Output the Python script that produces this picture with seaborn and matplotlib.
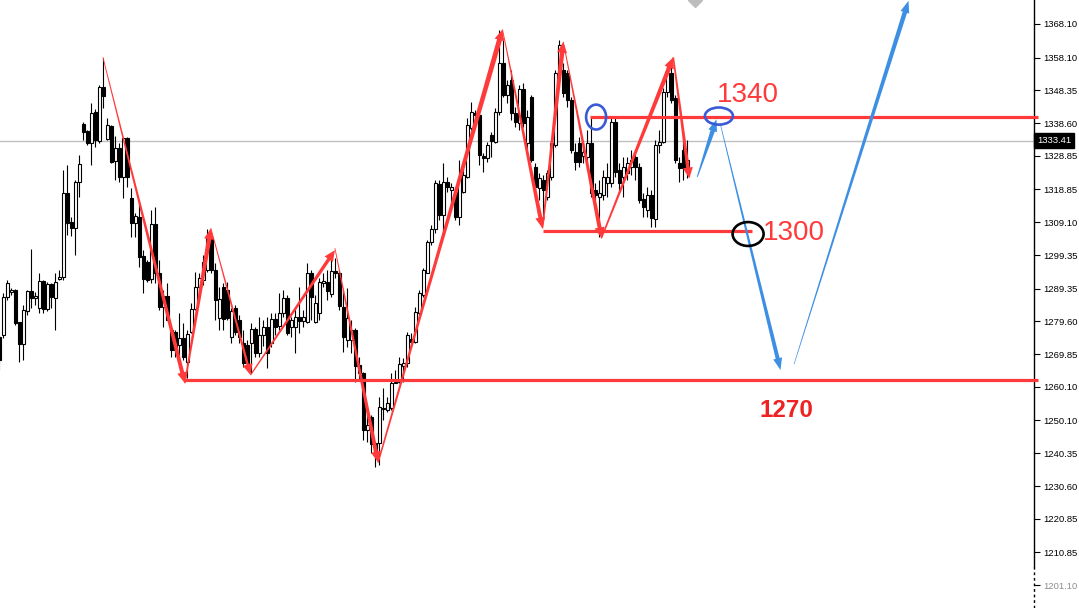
import numpy as np
import pandas as pd
import matplotlib.pyplot as plt
import seaborn as sns
from matplotlib.patches import Polygon, Ellipse
from matplotlib.transforms import IdentityTransform, blended_transform_factory

# candle prices, one entry per bar
opens = [1274.9, 1275.5, 1286.8, 1288.3, 1288.9, 1279.4, 1272.8, 1282.6, 1288.6, 1286.5,
         1283.5, 1291.6, 1283.2, 1290.7, 1286.5, 1292.2, 1292.8, 1317.8, 1309.1, 1307.3,
         1321.0, 1338.3, 1336.2, 1332.6, 1341.9, 1333.2, 1349.3, 1333.8, 1337.7, 1327.3,
         1331.2, 1322.5, 1334.1, 1316.3, 1308.8, 1310.6, 1299.0, 1297.2, 1292.2, 1308.5,
         1294.0, 1283.8, 1287.1, 1277.0, 1276.4, 1272.5, 1274.6, 1267.5, 1276.4, 1283.2,
         1289.8, 1291.9, 1294.8, 1304.4, 1294.8, 1280.6, 1289.8, 1288.9, 1274.9, 1283.5,
         1280.0, 1273.1, 1272.5, 1273.1, 1277.3, 1270.1, 1275.5, 1277.9, 1273.1, 1280.3,
         1278.2, 1282.0, 1286.5, 1277.9, 1277.9, 1280.9, 1279.7, 1279.4, 1294.0, 1279.4,
         1282.0, 1291.0, 1291.3, 1287.7, 1294.6, 1294.0, 1283.8, 1274.0, 1274.0, 1277.0,
         1266.6, 1264.2, 1247.2, 1251.1, 1243.4, 1243.4, 1253.5, 1253.2, 1253.8, 1261.2,
         1261.5, 1266.3, 1267.2, 1274.3, 1273.4, 1282.0, 1287.4, 1294.0, 1303.2, 1307.0,
         1320.4, 1311.2, 1321.0, 1318.7, 1318.1, 1310.6, 1318.1, 1322.5, 1337.1, 1341.6,
         1341.0, 1328.8, 1328.2, 1335.0, 1332.9, 1341.9, 1356.5, 1346.9, 1351.4, 1341.6,
         1338.6, 1348.7, 1332.6, 1346.3, 1325.5, 1319.2, 1321.6, 1316.6, 1322.5, 1332.0,
         1353.8, 1354.4, 1353.5, 1345.4, 1330.0, 1332.6, 1328.8, 1328.5, 1332.6, 1318.7,
         1316.6, 1317.2, 1320.7, 1320.7, 1338.9, 1324.6, 1322.5, 1323.7, 1325.5, 1328.5,
         1325.5, 1316.0, 1312.7, 1317.2, 1310.0, 1332.0, 1332.9, 1347.8, 1353.5, 1346.0,
         1326.7, 1330.6, 1325.2]
highs = [1275.5, 1288.0, 1291.9, 1289.5, 1289.2, 1279.4, 1284.4, 1288.9, 1301.1, 1288.3,
         1294.0, 1291.9, 1291.3, 1291.0, 1294.0, 1294.8, 1324.6, 1326.1, 1310.6, 1321.6,
         1329.1, 1338.9, 1336.5, 1344.5, 1342.8, 1349.9, 1357.9, 1340.1, 1338.0, 1334.7,
         1332.6, 1334.4, 1334.4, 1319.2, 1311.8, 1315.7, 1300.8, 1297.8, 1312.7, 1313.6,
         1297.8, 1288.9, 1291.0, 1277.9, 1277.0, 1282.0, 1279.1, 1277.0, 1285.0, 1294.3,
         1294.0, 1299.3, 1307.0, 1305.9, 1296.9, 1289.8, 1291.0, 1291.3, 1283.5, 1284.4,
         1281.5, 1277.0, 1274.0, 1279.1, 1277.9, 1280.9, 1280.0, 1280.9, 1282.0, 1282.0,
         1288.0, 1288.9, 1287.4, 1280.9, 1283.5, 1289.8, 1282.9, 1296.9, 1294.8, 1287.4,
         1292.5, 1294.0, 1294.8, 1298.7, 1298.4, 1294.8, 1288.9, 1289.5, 1280.0, 1277.6,
         1268.9, 1264.5, 1251.7, 1251.7, 1243.7, 1257.1, 1259.7, 1257.1, 1264.2, 1265.1,
         1268.9, 1268.7, 1276.4, 1276.1, 1283.8, 1288.9, 1295.4, 1303.8, 1308.2, 1321.6,
         1321.6, 1326.7, 1322.5, 1320.7, 1319.5, 1327.6, 1327.0, 1340.1, 1344.8, 1342.5,
         1341.6, 1329.7, 1332.9, 1335.9, 1343.1, 1366.3, 1363.3, 1351.4, 1354.4, 1343.4,
         1349.9, 1350.5, 1342.5, 1346.9, 1326.7, 1323.7, 1323.1, 1324.6, 1333.5, 1354.4,
         1363.3, 1356.5, 1354.4, 1346.3, 1332.6, 1334.4, 1332.6, 1336.5, 1340.4, 1320.7,
         1321.6, 1324.6, 1326.7, 1340.1, 1340.1, 1326.7, 1328.5, 1328.5, 1330.6, 1330.6,
         1326.7, 1317.8, 1319.5, 1318.7, 1333.5, 1336.5, 1349.0, 1356.5, 1357.3, 1346.9,
         1328.5, 1334.4, 1333.5]
lows = [1265.1, 1274.6, 1285.9, 1287.4, 1278.5, 1267.5, 1268.1, 1281.5, 1283.5, 1284.4,
        1282.0, 1282.0, 1282.6, 1283.5, 1277.0, 1291.9, 1291.9, 1305.3, 1305.0, 1299.3,
        1316.6, 1333.5, 1332.0, 1326.1, 1331.5, 1332.6, 1343.1, 1333.5, 1326.7, 1321.6,
        1321.0, 1316.3, 1319.5, 1304.7, 1304.7, 1295.7, 1288.0, 1291.3, 1291.0, 1291.0,
        1282.9, 1277.9, 1280.0, 1268.9, 1268.9, 1268.1, 1268.1, 1262.7, 1276.1, 1282.9,
        1289.5, 1290.4, 1294.3, 1294.0, 1280.0, 1277.0, 1277.0, 1280.0, 1273.1, 1275.5,
        1273.1, 1266.0, 1266.0, 1264.2, 1268.9, 1268.9, 1272.2, 1265.7, 1271.9, 1275.5,
        1277.0, 1280.9, 1275.5, 1274.9, 1270.1, 1276.1, 1277.9, 1279.1, 1280.0, 1279.1,
        1280.0, 1289.8, 1285.9, 1286.8, 1292.5, 1282.9, 1270.4, 1271.9, 1270.1, 1261.5,
        1262.1, 1244.3, 1243.7, 1240.4, 1236.2, 1236.8, 1250.2, 1252.6, 1253.2, 1261.2,
        1261.2, 1261.5, 1266.0, 1273.1, 1273.1, 1280.9, 1286.8, 1294.0, 1302.3, 1305.9,
        1309.7, 1305.9, 1318.1, 1313.6, 1309.7, 1308.2, 1317.8, 1322.2, 1336.5, 1338.0,
        1326.1, 1324.0, 1327.0, 1328.5, 1332.6, 1341.0, 1346.3, 1344.5, 1339.5, 1337.4,
        1336.5, 1337.4, 1330.6, 1327.0, 1315.7, 1315.7, 1310.6, 1315.7, 1321.6, 1331.5,
        1352.9, 1346.3, 1343.4, 1329.7, 1324.6, 1325.5, 1326.7, 1324.6, 1316.6, 1315.7,
        1304.7, 1315.7, 1316.6, 1319.5, 1322.5, 1317.8, 1316.6, 1321.6, 1323.1, 1321.6,
        1314.8, 1310.6, 1310.6, 1307.6, 1307.6, 1329.7, 1332.6, 1346.3, 1344.5, 1326.7,
        1321.0, 1321.6, 1322.2]
closes = [1268.1, 1286.8, 1291.0, 1288.9, 1279.1, 1272.8, 1282.9, 1288.6, 1286.5, 1287.1,
          1291.6, 1283.2, 1290.7, 1286.8, 1291.3, 1292.8, 1317.8, 1308.8, 1307.3, 1321.0,
          1326.4, 1335.9, 1332.6, 1341.6, 1333.5, 1349.3, 1346.6, 1338.0, 1327.0, 1331.2,
          1322.5, 1334.1, 1322.5, 1308.8, 1310.9, 1298.7, 1292.2, 1291.9, 1308.5, 1294.0,
          1283.8, 1287.1, 1280.0, 1271.0, 1271.0, 1274.6, 1268.9, 1275.8, 1283.2, 1289.8,
          1292.5, 1297.2, 1304.4, 1294.8, 1285.9, 1286.2, 1280.3, 1280.6, 1282.6, 1276.4,
          1274.9, 1267.2, 1267.2, 1277.3, 1270.1, 1275.5, 1277.9, 1270.1, 1280.3, 1277.9,
          1282.0, 1286.5, 1276.1, 1280.0, 1280.9, 1279.7, 1280.9, 1294.0, 1286.8, 1285.0,
          1291.3, 1291.6, 1288.6, 1294.6, 1294.0, 1284.1, 1274.9, 1280.6, 1277.0, 1266.3,
          1264.2, 1247.2, 1248.7, 1243.1, 1239.8, 1254.1, 1253.8, 1255.3, 1261.2, 1261.5,
          1266.9, 1267.2, 1275.5, 1273.4, 1282.3, 1288.0, 1294.8, 1303.2, 1307.0, 1320.7,
          1311.2, 1321.0, 1319.5, 1319.5, 1310.6, 1322.5, 1323.1, 1338.0, 1341.9, 1341.0,
          1329.1, 1328.2, 1332.0, 1333.2, 1341.9, 1356.5, 1346.9, 1349.9, 1341.6, 1338.9,
          1348.7, 1338.6, 1340.4, 1327.6, 1319.5, 1322.2, 1318.7, 1323.7, 1332.6, 1353.5,
          1361.8, 1347.5, 1345.4, 1330.6, 1327.0, 1327.0, 1330.0, 1332.6, 1317.8, 1317.2,
          1317.8, 1322.5, 1322.5, 1338.9, 1324.0, 1320.7, 1325.5, 1326.7, 1327.6, 1325.5,
          1315.7, 1313.6, 1317.2, 1310.3, 1332.0, 1332.9, 1347.8, 1353.5, 1345.4, 1327.6,
          1325.2, 1325.2, 1327.6]

# price axis labels
tick_values = [1368.10, 1358.10, 1348.35, 1338.60, 1328.85, 1318.85, 1309.10, 1299.35,
               1289.35, 1279.60, 1269.85, 1260.10, 1250.10, 1240.35, 1230.60, 1220.85,
               1210.85, 1201.10]
last_price = 1333.41

# hand drawn swing arrows (bar index, price) start -> end
red_x0 = [25.9, 46.4, 52.9, 62.8, 83.9, 94.7, 125.8, 135.8, 141.0, 150.5, 168.5]
red_p0 = [1358.2, 1261.2, 1307.3, 1263.6, 1301.4, 1237.6, 1366.5, 1307.3, 1362.8, 1304.3, 1358.2]
red_x1 = [46.4, 52.9, 62.8, 83.9, 94.7, 125.8, 135.8, 141.0, 150.6, 168.5, 172.5]
red_p1 = [1261.2, 1307.3, 1263.6, 1300.8, 1237.6, 1366.5, 1307.3, 1362.8, 1304.3, 1358.2, 1322.1]
blue_x0 = [174.5, 180.2, 198.7]
blue_p0 = [1322.6, 1338.6, 1266.9]
blue_x1 = [179.3, 195.3, 227.3]
blue_p1 = [1339.7, 1265.1, 1375.0]

# horizontal levels
level_prices = [1262.1, 1340.4, 1306.4]
level_start = [46.4, 147.7, 135.9]
level_end = [259.7, 259.7, 188.2]

# circled spots (bar index, price, width in bars, height in price)
circle_x = [149.2, 179.9, 187.2]
circle_p = [1340.4, 1340.7, 1305.6]
circle_w = [5.0, 7.0, 7.75]
circle_h = [7.4, 5.1, 7.1]

label_text = ['1340', '1300', '1270']
label_x = [187.2, 198.7, 196.9]
label_p = [1346.9, 1305.9, 1253.2]

RED = '#ff3a3a'
BLUE = '#3d8fe3'


def wedge_arrow(ax, x0, y0, x1, y1, w0, w1, color, head_len=11.0, head_w=10.0):
    # tapered shaft with a filled head, built in pixel space
    a = ax.transData.transform((x0, y0))
    b = ax.transData.transform((x1, y1))
    d = b - a
    u = d / np.hypot(*d)
    n = np.array([-u[1], u[0]])
    base = b - u * head_len
    verts = [a + n * w0 / 2, base + n * w1 / 2, base + n * head_w / 2, b,
             base - n * head_w / 2, base - n * w1 / 2, a - n * w0 / 2]
    ax.add_patch(Polygon(verts, closed=True, transform=IdentityTransform(),
                         facecolor=color, edgecolor='none', clip_on=False, zorder=6))


def main():
    sns.set_theme(style='white')
    plt.rcParams['font.family'] = ['Liberation Sans', 'DejaVu Sans']

    df = pd.DataFrame({'open': opens, 'high': highs, 'low': lows, 'close': closes})
    df['x'] = np.arange(len(df))
    up = df['close'] >= df['open']

    fig = plt.figure(figsize=(10.79, 6.08), dpi=100)
    ax = fig.add_axes([0, 0, 1034 / 1079, 1])
    ax.set_xlim(0.175, 258.675)
    ax.set_ylim(1194.3, 1375.24)

    # candles
    ax.vlines(df['x'], df['low'], df['high'], color='black', lw=0.8, zorder=2)
    body = (df['close'] - df['open']).abs().clip(lower=0.08)
    ax.bar(df['x'], body, bottom=df[['open', 'close']].min(axis=1), width=0.62,
           color=np.where(up, 'white', 'black'), edgecolor='black', linewidth=0.8, zorder=3)

    # bid line
    ax.axhline(last_price, color='#c0c0c0', lw=1, zorder=1)

    # levels
    for p, s, e in zip(level_prices, level_start, level_end):
        ax.plot([s, e], [p, p], color=RED, lw=2.3, solid_capstyle='butt', clip_on=False, zorder=5)

    # swing arrows
    red_w0 = [0.8, 1.5, 0.8, 1.2, 0.8, 1.5, 0.8, 1.5, 0.8, 1.5, 1.5]
    red_w1 = [4.0, 4.5, 2.5, 3.5, 4.0, 5.0, 4.0, 4.5, 4.0, 4.5, 3.5]
    for i in range(len(red_x0)):
        wedge_arrow(ax, red_x0[i], red_p0[i], red_x1[i], red_p1[i], red_w0[i], red_w1[i], RED)
    blue_w0 = [1.0, 0.6, 0.6]
    blue_w1 = [4.5, 4.0, 4.5]
    for i in range(len(blue_x0)):
        wedge_arrow(ax, blue_x0[i], blue_p0[i], blue_x1[i], blue_p1[i], blue_w0[i], blue_w1[i], BLUE,
                    head_len=12, head_w=9)

    # circles
    circle_col = ['#3b5bd6', '#3b5bd6', 'black']
    for x, p, w, h, c in zip(circle_x, circle_p, circle_w, circle_h, circle_col):
        ax.add_patch(Ellipse((x, p), w, h, fill=False, edgecolor=c, lw=1.9, zorder=7))

    # level labels
    ax.text(label_x[0], label_p[0], label_text[0], color=RED, fontsize=20, ha='center', va='center')
    ax.text(label_x[1], label_p[1], label_text[1], color=RED, fontsize=20, ha='center', va='center')
    ax.text(label_x[2], label_p[2], label_text[2], color='#ee2222', fontsize=17.5,
            fontweight='bold', ha='center', va='center')

    # small grey marker at top edge
    ax.plot(173.9, 1375.24, marker='D', color='#bdbdbd', ms=7, zorder=4)

    # price scale on the right
    for side in ['left', 'top', 'bottom']:
        ax.spines[side].set_visible(False)
    ax.spines['right'].set_color('black')
    ax.spines['right'].set_linewidth(1)
    ax.spines['right'].set_bounds(1206.5, 1375.24)
    trans = blended_transform_factory(ax.transAxes, ax.transData)
    ax.plot([1, 1], [1194.3, 1206.5], transform=trans, color='black', lw=1, ls=(0, (2, 2)),
            clip_on=False)
    ax.set_xticks([])
    ax.set_yticks(tick_values)
    ax.set_yticklabels(['%.2f' % v for v in tick_values])
    ax.yaxis.tick_right()
    ax.tick_params(axis='y', which='both', right=True, left=False, labelright=True,
                   labelleft=False, direction='out', length=4, width=0.8, color='black',
                   labelsize=6.8, labelcolor='black', pad=3)
    ax.get_yticklabels()[-1].set_alpha(0.45)

    ax.text(1.0 + 3 / 1034, last_price, '%.2f' % last_price, transform=trans, color='white',
            fontsize=6.8, ha='left', va='center',
            bbox=dict(boxstyle='square,pad=0.3', fc='black', ec='black'))

    fig.savefig('out.png', dpi=100, facecolor='white')


if __name__ == '__main__':
    main()
